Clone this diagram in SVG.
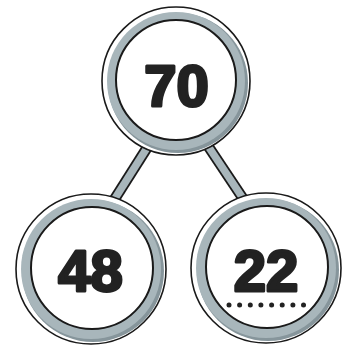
<svg xmlns="http://www.w3.org/2000/svg" width="351" height="347" viewBox="0 0 351 347">
<defs>
<style>
.outer{fill:#fff;stroke:#1a1a1a;stroke-width:1.6}
.shade{fill:#86959b}
.ring{fill:#a8b6bb}
.inner{fill:#fff;stroke:#1a1a1a;stroke-width:2}
.num{font-family:"Liberation Sans",Arial,sans-serif;font-weight:bold;font-size:58px;fill:#222;stroke:#222;stroke-width:3;stroke-linejoin:round;text-anchor:middle}
.cb{stroke:#1a1a1a;stroke-width:11;stroke-linecap:butt}
.cf{stroke:#a8b6bb;stroke-width:7.5;stroke-linecap:butt}
</style>
</defs>
<g id="connectors">
<line class="cb" x1="152" y1="140" x2="114" y2="200"/>
<line class="cf" x1="152" y1="140" x2="114" y2="200"/>
<line class="cb" x1="204" y1="140" x2="244" y2="200"/>
<line class="cf" x1="204" y1="140" x2="244" y2="200"/>
</g>
<g id="node70">
<circle class="outer" cx="176" cy="81" r="74"/>
<circle class="shade" cx="178" cy="83" r="70"/>
<circle class="ring" cx="176" cy="81" r="69"/>
<circle class="inner" cx="176" cy="80" r="60"/>
<text class="num" x="176.5" y="106">70</text>
</g>
<g id="node48">
<circle class="outer" cx="91" cy="269" r="75"/>
<circle class="shade" cx="93" cy="271" r="71"/>
<circle class="ring" cx="91" cy="269" r="70"/>
<circle class="inner" cx="92" cy="268" r="61"/>
<text class="num" x="90.5" y="291">48</text>
</g>
<g id="node22">
<circle class="outer" cx="266" cy="268" r="75"/>
<circle class="shade" cx="268" cy="270" r="71"/>
<circle class="ring" cx="266" cy="268" r="70"/>
<circle class="inner" cx="267" cy="267" r="61"/>
<text class="num" x="266" y="291">22</text>
<g fill="#222">
<circle cx="229" cy="305" r="2.5"/>
<circle cx="239.6" cy="305" r="2.5"/>
<circle cx="250.3" cy="305" r="2.5"/>
<circle cx="260.9" cy="305" r="2.5"/>
<circle cx="271.6" cy="305" r="2.5"/>
<circle cx="282.2" cy="305" r="2.5"/>
<circle cx="292.9" cy="305" r="2.5"/>
<circle cx="303.5" cy="305" r="2.5"/>
</g>
</g>
</svg>
